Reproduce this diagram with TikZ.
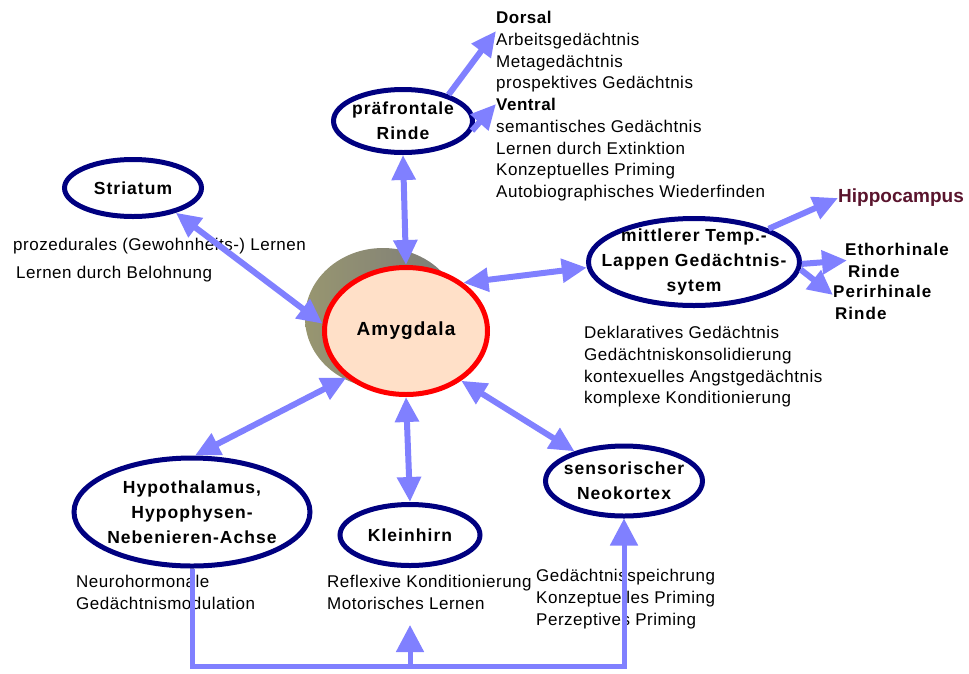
\documentclass[tikz,border=0pt]{standalone}
\usepackage{fontspec}
\setmainfont{Liberation Sans}
\newfontfamily\lblfont[LetterSpace=6]{Liberation Sans}
\newfontfamily\txtfont[LetterSpace=3]{Liberation Sans}
\usepackage{xcolor}
\usepackage{tikz}
\usetikzlibrary{shapes.geometric,arrows.meta,positioning}

\definecolor{arrowblue}{RGB}{128,128,255}
\definecolor{navy}{RGB}{0,0,128}
\definecolor{amyfill}{RGB}{255,224,200}
\definecolor{hippored}{RGB}{90,20,45}
\definecolor{shadeolive}{RGB}{152,150,112}
\definecolor{shadegray}{RGB}{122,122,122}

\begin{document}
\begin{tikzpicture}[x=1pt,y=-1pt,
    region/.style={ellipse,draw=navy,line width=5pt,fill=white,inner xsep=-40pt,inner ysep=-15pt,align=center,
        font=\lblfont\bfseries\fontsize{17.5}{25}\selectfont},
    memo/.style={anchor=north west,inner sep=0pt,align=left,
        font=\txtfont\fontsize{17}{21.8}\selectfont},
    link/.style={draw=arrowblue,line width=6pt,
        {Triangle[length=25pt,width=23pt]}-{Triangle[length=25pt,width=23pt]}},
    outlink/.style={draw=arrowblue,line width=6pt,-{Triangle[length=25pt,width=23pt]}},
    feedback/.style={draw=arrowblue,line width=5pt,-{Triangle[length=27pt,width=27pt]}}]
    \useasboundingbox (0,0) rectangle (969,673);

    % Amygdala with its grey shadow
    \node[ellipse,inner sep=0pt,minimum width=156pt,minimum height=140pt,
        left color=shadeolive,right color=shadegray] (amyback) at (383,318) {};
    \node[ellipse,draw=red,line width=5pt,fill=amyfill,inner sep=0pt,
        minimum width=163pt,minimum height=127pt,
        font=\lblfont\bfseries\fontsize{19}{24}\selectfont] (amy) at (406,331) {Amygdala};

    % Brain regions
    \node[region,minimum width=139pt,minimum height=63pt] (pfc) at (403,121) {präfrontale\\Rinde};
    \node[region,minimum width=137pt,minimum height=57pt] (str) at (133,188) {Striatum};
    \node[region,minimum width=211pt,minimum height=87pt] (mtl) at (694,262) {mittlerer Temp.-\\Lappen Gedächtnis-\\sytem};
    \node[region,minimum width=157pt,minimum height=70pt] (neo) at (624,481) {sensorischer\\Neokortex};
    \node[region,minimum width=236pt,minimum height=108pt] (hpa) at (192,512) {Hypothalamus,\\Hypophysen-\\Nebenieren-Achse};
    \node[region,minimum width=140pt,minimum height=61pt] (klein) at (410,535) {Kleinhirn};

    % Memory functions
    \node[memo] (dorsal) at (496,11) {\textbf{Dorsal}\\Arbeitsgedächtnis\\Metagedächtnis\\prospektives Gedächtnis};
    \node[memo] (ventral) at (496,98) {\textbf{Ventral}\\semantisches Gedächtnis\\Lernen durch Extinktion\\Konzeptuelles Priming\\Autobiographisches Wiederfinden};
    \node[memo] (strtext) at (13,238) {prozedurales (Gewohnheits-) Lernen\\[6pt]\hspace{3pt}Lernen durch Belohnung};
    \node[memo] (mtltext) at (584,326) {Deklaratives Gedächtnis\\Gedächtniskonsolidierung\\kontexuelles Angstgedächtnis\\komplexe Konditionierung};
    \node[memo] (hpatext) at (76,575) {Neurohormonale\\Gedächtnismodulation};
    \node[memo] (kltext) at (327,575) {Reflexive Konditionierung\\Motorisches Lernen};
    \node[memo] (neotext) at (536,569) {Gedächtnisspeichrung\\Konzeptuelles Priming\\Perzeptives Priming};

    % Temporal lobe parts
    \node[anchor=west,inner sep=0pt,text=hippored,font=\bfseries\fontsize{19}{22}\selectfont] (hippo) at (838,198) {Hippocampus};
    \node[memo,font=\lblfont\bfseries\fontsize{17}{22}\selectfont] (ento) at (845,243) {Ethorhinale\\\hspace{3pt}Rinde};
    \node[memo,font=\lblfont\bfseries\fontsize{17}{22}\selectfont] (peri) at (833,285) {Perirhinale\\\hspace{2pt}Rinde};

    % Connections to the amygdala
    \draw[link] (amy.north) -- (pfc.south);
    \draw[link] (amy.175) -- (str.-30);
    \draw[link] (amy.40) -- (mtl.183);
    \draw[link] (amy.218) -- (hpa.87);
    \draw[link] (amy.south) -- (klein.north);
    \draw[link] (amy.-42) -- (neo.149);

    % Outgoing arrows
    \draw[outlink] (pfc.30) -- ([yshift=-20pt]dorsal.north west);
    \draw[outlink] (pfc.-8) -- ([yshift=-6pt]ventral.north west);
    \draw[outlink] (mtl.24) -- (hippo.west);
    \draw[outlink] (mtl.-1) -- ([xshift=2pt]ento.west);
    \draw[outlink] (mtl.-4) -- ([yshift=-10pt]peri.north west);

    % Feedback loop along the bottom
    \coordinate (fbleft) at (hpa.south |- 0,666);
    \coordinate (fbright) at (neo.south |- 0,666);
    \coordinate (kltip) at (klein.south |- 0,625);
    \draw[feedback] (hpa.south) -- (fbleft) -- (fbright) -- (neo.south);
    \draw[feedback] (klein.south |- fbleft) -- (kltip);
\end{tikzpicture}
\end{document}
